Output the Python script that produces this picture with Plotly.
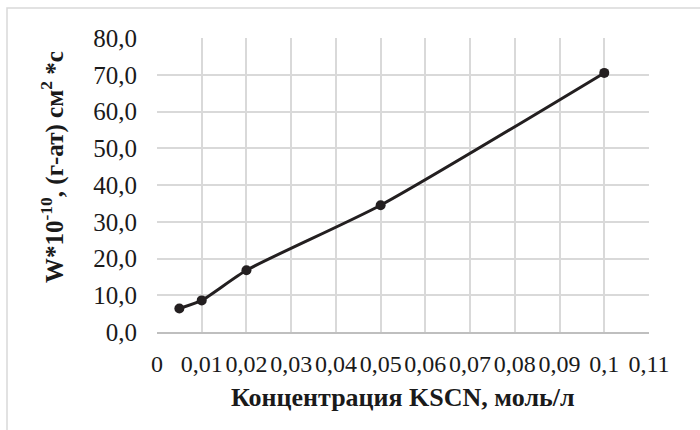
import plotly.graph_objects as go

# KSCN concentration (mol/L) and rate W*10^-10
concentration = [0.005, 0.01, 0.02, 0.05, 0.1]
rate = [6.4, 8.6, 16.8, 34.5, 70.5]

x_title = "Концентрация KSCN, моль/л"
y_title = "W*10<sup>-10</sup>, (г-ат) см<sup>2</sup> *с"

W, H = 700, 430
L, R, T, B = 157, 51, 38, 98
pw, ph = W - L - R, H - T - B

def px(x):
    return (x - L) / pw

def py(y):
    return (H - B - y) / ph

font_family = "Liberation Serif, Times New Roman, serif"
grid = "#d9d9d9"
ink = "#1a1a1a"

fig = go.Figure()
fig.add_trace(go.Scatter(
    x=concentration, y=rate, mode="lines+markers",
    line=dict(color="#231f20", width=3, shape="spline", smoothing=0.6),
    marker=dict(color="#231f20", size=10),
    showlegend=False, hoverinfo="skip",
))

fig.update_layout(
    width=W, height=H,
    margin=dict(l=L, r=R, t=T, b=B),
    paper_bgcolor="white", plot_bgcolor="white",
    separators=", ",
    font=dict(family=font_family, size=24, color=ink),
    xaxis=dict(
        range=[0, 0.11], dtick=0.01, tick0=0, tickformat=".2~f",
        showgrid=True, gridcolor=grid, gridwidth=1.5,
        zeroline=False, showline=True, linecolor="#bfbfbf", linewidth=1.5,
        ticks="", ticklabelstandoff=9, tickangle=0,
        tickfont=dict(family=font_family, size=24, color=ink),
    ),
    yaxis=dict(
        range=[0, 80], dtick=10, tickformat=".1f",
        showgrid=True, gridcolor=grid, gridwidth=1.5,
        zeroline=False, showline=False, ticks="", ticklabelstandoff=19,
        tickfont=dict(family=font_family, size=25, color=ink),
    ),
    shapes=[
        # chart-area frame
        dict(type="rect", xref="paper", yref="paper",
             x0=px(7), x1=px(720), y0=py(450), y1=py(8),
             line=dict(color="#d9d9d9", width=1.5), fillcolor="rgba(0,0,0,0)",
             layer="below"),
    ],
    annotations=[
        dict(text="<b>" + x_title + "</b>", xref="paper", yref="paper",
             x=px(403), y=py(397), xanchor="center", yanchor="middle",
             showarrow=False,
             font=dict(family=font_family, size=26, color=ink)),
        dict(text="<b>" + y_title + "</b>", xref="paper", yref="paper",
             x=px(52), y=py(167), xanchor="center", yanchor="middle",
             showarrow=False, textangle=-90,
             font=dict(family=font_family, size=25, color=ink)),
    ],
)

fig.write_html("out.html")
